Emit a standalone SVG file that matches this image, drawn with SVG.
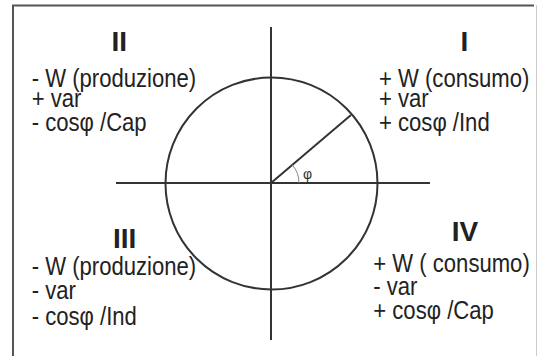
<svg xmlns="http://www.w3.org/2000/svg" width="538" height="356" viewBox="0 0 538 356">
<style>
.t{font-family:"Liberation Sans",Arial,sans-serif;font-size:26px;fill:#222}
.n{font-family:"Liberation Sans",Arial,sans-serif;font-size:28px;font-weight:bold;fill:#222}
.ax{stroke:#333;stroke-width:2;fill:none}
</style>
<rect x="0" y="0" width="538" height="356" fill="#fff"/>
<g id="frame">
<line x1="13" y1="5" x2="13" y2="356" stroke="#555" stroke-width="2"/>
<line x1="12" y1="5.5" x2="534" y2="5.5" stroke="#555" stroke-width="2"/>
<line x1="536.5" y1="5" x2="536.5" y2="356" stroke="#ccc" stroke-width="1"/>
</g>
<g id="connectors">
<line class="ax" x1="116" y1="183" x2="430" y2="183"/>
<line class="ax" x1="271" y1="27" x2="271" y2="340"/>
<circle class="ax" cx="271.5" cy="183.5" r="106" stroke="#111"/>
<line class="ax" x1="271" y1="183" x2="351" y2="115"/>
<path d="M299,183 A28 28 0 0 0 292.4,165" fill="none" stroke="#888" stroke-width="1"/>
<text x="303" y="179" style="font-family:'Liberation Sans',Arial,sans-serif;font-size:14px;fill:#333">φ</text>
</g>
<g id="q2">
<text class="n" x="111.5" y="51">II</text>
<g transform="translate(31.7 0) scale(0.85 1)">
<text class="t" x="0" y="87">- W (produzione)</text>
<text class="t" x="0" y="107">+ var</text>
<text class="t" x="0" y="131">- cosφ  /Cap</text>
</g>
</g>
<g id="q1">
<text class="n" x="460.5" y="51">I</text>
<g transform="translate(379 0) scale(0.85 1)">
<text class="t" x="0" y="87">+ W (consumo)</text>
<text class="t" x="0" y="107">+ var</text>
<text class="t" x="0" y="131">+ cosφ  /Ind</text>
</g>
</g>
<g id="q3">
<text class="n" x="113" y="247.5">III</text>
<g transform="translate(31.7 0) scale(0.85 1)">
<text class="t" x="0" y="275">- W (produzione)</text>
<text class="t" x="0" y="299">- var</text>
<text class="t" x="0" y="325">- cosφ  /Ind</text>
</g>
</g>
<g id="q4">
<text class="n" x="451.7" y="240.5">IV</text>
<g transform="translate(373.3 0) scale(0.85 1)">
<text class="t" x="0" y="272">+ W ( consumo)</text>
<text class="t" x="0" y="295">- var</text>
<text class="t" x="0" y="319">+ cosφ  /Cap</text>
</g>
</g>
</svg>
